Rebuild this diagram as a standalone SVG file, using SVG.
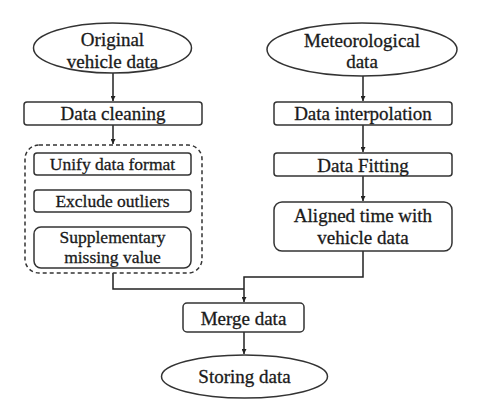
<svg xmlns="http://www.w3.org/2000/svg" width="488" height="416" viewBox="0 0 488 416">
<defs>
<marker id="ah" viewBox="0 0 8 8" refX="8" refY="4" markerWidth="5" markerHeight="5" orient="auto" markerUnits="userSpaceOnUse">
<path d="M0,0 L8,4 L0,8 Z" fill="#222"/>
</marker>
<style>
.s{fill:#fff;stroke:#333;stroke-width:1.5}
.d{fill:none;stroke:#333;stroke-width:1.5;stroke-dasharray:4 3}
.t{font-family:"Liberation Serif","Times New Roman",serif;font-size:19px;fill:#1a1a1a;stroke:#1a1a1a;stroke-width:0.3;text-anchor:middle}
.ts{font-family:"Liberation Serif","Times New Roman",serif;font-size:17.5px;fill:#1a1a1a;stroke:#1a1a1a;stroke-width:0.3;text-anchor:middle}
.c{fill:none;stroke:#222;stroke-width:1.5}
</style>
</defs>
<rect width="488" height="416" fill="#fff"/>
<g id="connectors">
<path class="c" d="M113,73 V101" marker-end="url(#ah)"/>
<path class="c" d="M113,125 V144" marker-end="url(#ah)"/>
<path class="c" d="M363,76 V101" marker-end="url(#ah)"/>
<path class="c" d="M363,125 V152" marker-end="url(#ah)"/>
<path class="c" d="M363,176 V201" marker-end="url(#ah)"/>
<path class="c" d="M113,273 V289 H244"/>
<path class="c" d="M363,251 V277 H244 V302" marker-end="url(#ah)"/>
<path class="c" d="M244,332 V354" marker-end="url(#ah)"/>
</g>
<g id="original">
<ellipse class="s" cx="112.5" cy="48" rx="79" ry="25"/>
<text class="t" x="112.5" y="45.5">Original</text>
<text class="t" x="112.5" y="68">vehicle data</text>
</g>
<g id="cleaning">
<rect class="s" x="24" y="102" width="178" height="23" rx="3"/>
<text class="t" x="113" y="120">Data cleaning</text>
</g>
<g id="cleaning-group">
<rect class="d" x="25" y="145" width="177" height="128" rx="14"/>
</g>
<g id="unify">
<rect class="s" x="34" y="153" width="157" height="22" rx="3"/>
<text class="ts" x="112.5" y="170">Unify data format</text>
</g>
<g id="exclude">
<rect class="s" x="34" y="190" width="157" height="22" rx="3"/>
<text class="ts" x="112.5" y="206.5">Exclude outliers</text>
</g>
<g id="supplementary">
<rect class="s" x="34" y="227" width="157" height="41" rx="7"/>
<text class="ts" x="112.5" y="242.5">Supplementary</text>
<text class="ts" x="112.5" y="263">missing value</text>
</g>
<g id="meteorological">
<ellipse class="s" cx="362" cy="49.5" rx="95" ry="26.5"/>
<text class="t" x="362" y="46.5">Meteorological</text>
<text class="t" x="362" y="68">data</text>
</g>
<g id="interpolation">
<rect class="s" x="274" y="102" width="178" height="23" rx="3"/>
<text class="t" x="363" y="120">Data interpolation</text>
</g>
<g id="fitting">
<rect class="s" x="274" y="153" width="178" height="23" rx="3"/>
<text class="t" x="363" y="171.5">Data Fitting</text>
</g>
<g id="aligned">
<rect class="s" x="274" y="202" width="178" height="49" rx="8"/>
<text class="t" x="363" y="221.5">Aligned time with</text>
<text class="t" x="363" y="244">vehicle data</text>
</g>
<g id="merge">
<rect class="s" x="183" y="303" width="121" height="29" rx="4"/>
<text class="t" x="243.5" y="325">Merge data</text>
</g>
<g id="storing">
<ellipse class="s" cx="244.5" cy="376.5" rx="83" ry="21.5"/>
<text class="t" x="244.5" y="383">Storing data</text>
</g>
</svg>
